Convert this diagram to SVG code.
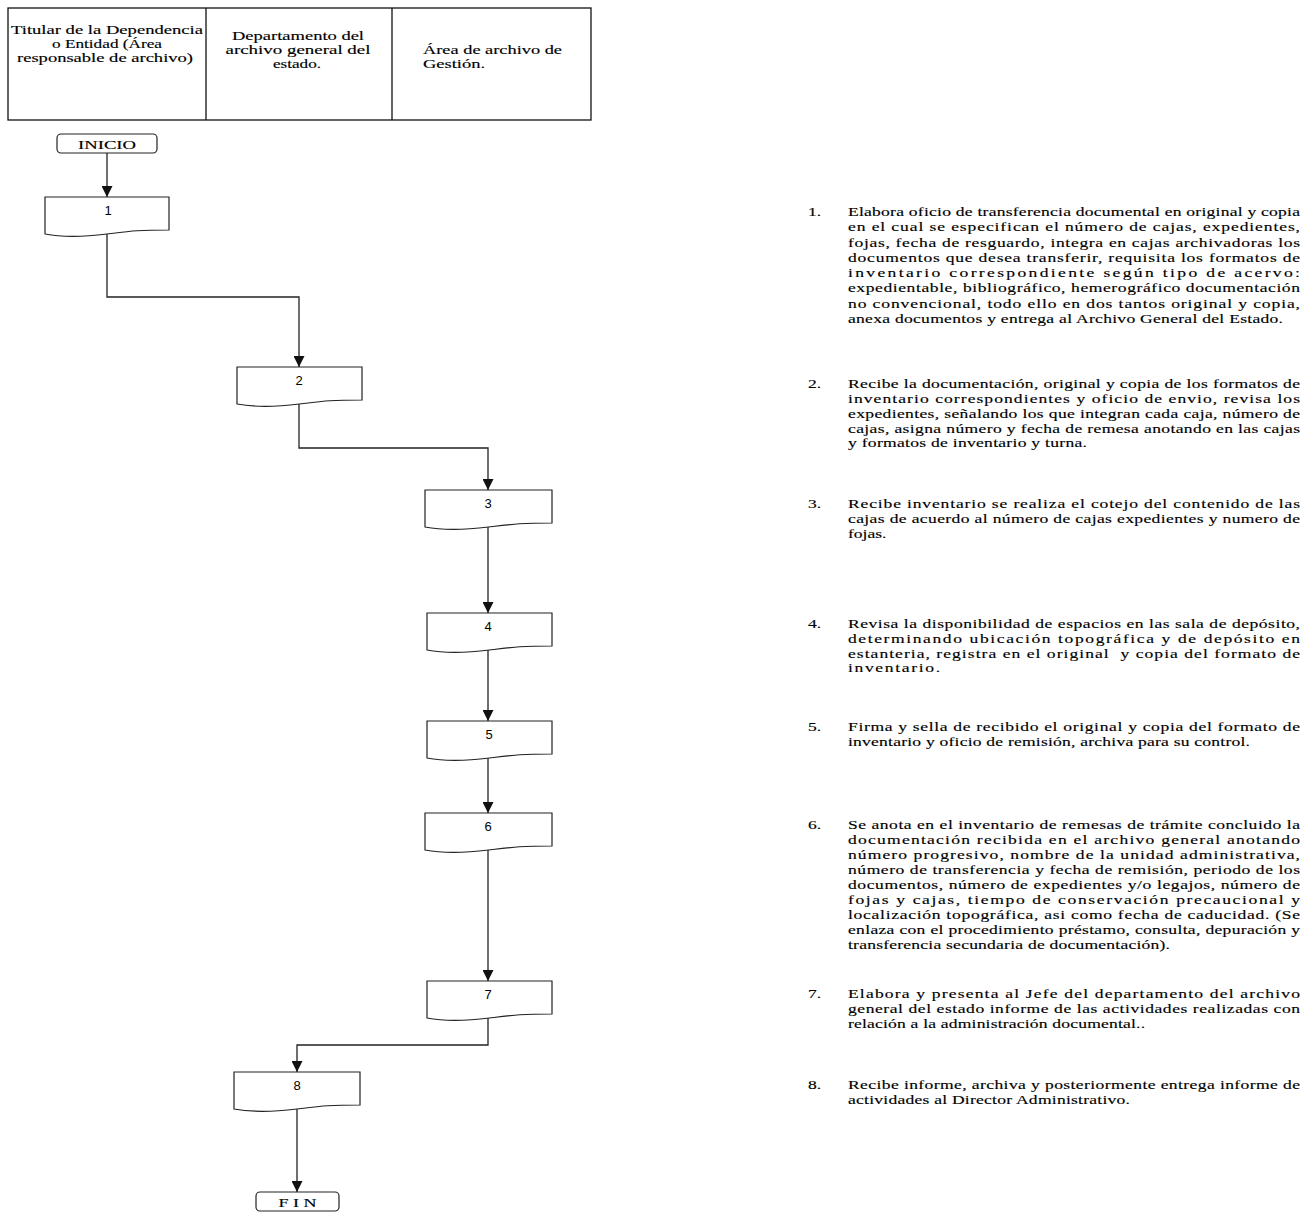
<svg xmlns="http://www.w3.org/2000/svg" width="1316" height="1212" viewBox="0 0 1316 1212">
<style>
.bg{fill:#fff}
.frame{fill:none;stroke:#111;stroke-width:1.3}
.node{fill:#fff;stroke:#222;stroke-width:1.2}
.term{fill:#fff;stroke:#222;stroke-width:1.2}
.conn{fill:none;stroke:#222;stroke-width:1.3}
.t{font-family:"Liberation Serif","Times New Roman",serif;font-size:13.5px;fill:#000;stroke:#000;stroke-width:0.15}
.num{font-family:"Liberation Sans",Arial,sans-serif;font-size:13px;fill:#000;text-anchor:middle}
.b{font-family:"Liberation Serif","Times New Roman",serif;font-size:13.5px;fill:#000;stroke:#000;stroke-width:0.15}
</style>
<defs>
<marker id="arr" markerUnits="userSpaceOnUse" markerWidth="12" markerHeight="11" refX="11" refY="5.5" orient="auto">
<path d="M0,0 L11,5.5 L0,11 Z" fill="#111"/>
</marker>
</defs>
<rect class="bg" x="0" y="0" width="1316" height="1212"/>

<g id="header">
<rect class="frame" x="8" y="8" width="583" height="112"/>
<line class="frame" x1="206" y1="8" x2="206" y2="120"/>
<line class="frame" x1="392" y1="8" x2="392" y2="120"/>
<text class="t" x="107" y="34" text-anchor="middle" textLength="192" lengthAdjust="spacingAndGlyphs">Titular de la Dependencia</text>
<text class="t" x="107" y="48" text-anchor="middle" textLength="110" lengthAdjust="spacingAndGlyphs">o Entidad (Área</text>
<text class="t" x="105" y="62" text-anchor="middle" textLength="176" lengthAdjust="spacingAndGlyphs">responsable de archivo)</text>
<text class="t" x="298" y="40" text-anchor="middle" textLength="132" lengthAdjust="spacingAndGlyphs">Departamento del</text>
<text class="t" x="298" y="54" text-anchor="middle" textLength="145" lengthAdjust="spacingAndGlyphs">archivo general del</text>
<text class="t" x="297" y="68" text-anchor="middle" textLength="48" lengthAdjust="spacingAndGlyphs">estado.</text>
<text class="t" x="423" y="54" textLength="139" lengthAdjust="spacingAndGlyphs">Área de archivo de</text>
<text class="t" x="423" y="68" textLength="62" lengthAdjust="spacingAndGlyphs">Gestión.</text>
</g>

<g id="connectors">
<path class="conn" d="M107 153 V197" marker-end="url(#arr)"/>
<path class="conn" d="M107 234 V297 H299 V367" marker-end="url(#arr)"/>
<path class="conn" d="M299 404 V448 H488 V490" marker-end="url(#arr)"/>
<path class="conn" d="M488 527 V613" marker-end="url(#arr)"/>
<path class="conn" d="M488 650 V721" marker-end="url(#arr)"/>
<path class="conn" d="M488 758 V813" marker-end="url(#arr)"/>
<path class="conn" d="M488 850 V981" marker-end="url(#arr)"/>
<path class="conn" d="M488 1018 V1045 H297 V1072" marker-end="url(#arr)"/>
<path class="conn" d="M297 1109 V1192" marker-end="url(#arr)"/>
</g>

<g id="inicio">
<rect class="term" x="57" y="134" width="100" height="19" rx="4"/>
<text class="t" x="107" y="148.5" text-anchor="middle" font-size="14" textLength="58" lengthAdjust="spacingAndGlyphs">INICIO</text>
</g>
<g id="n1">
<path class="node" d="M45 197 H169 V230 C138 230 131.8 231 107 234 C82.2 237 63.6 237.5 45 234 Z"/>
<text class="num" x="108" y="215">1</text>
</g>
<g id="n2">
<path class="node" d="M237 367 H362 V400 C330.75 400 324.5 401 299.5 404 C274.5 407 255.75 407.5 237 404 Z"/>
<text class="num" x="299" y="385">2</text>
</g>
<g id="n3">
<path class="node" d="M425 490 H552 V523 C520.25 523 513.9 524 488.5 527 C463.1 530 444.05 530.5 425 527 Z"/>
<text class="num" x="488" y="508">3</text>
</g>
<g id="n4">
<path class="node" d="M427 613 H552 V646 C520.75 646 514.5 647 489.5 650 C464.5 653 445.75 653.5 427 650 Z"/>
<text class="num" x="488" y="631">4</text>
</g>
<g id="n5">
<path class="node" d="M427 721 H552 V754 C520.75 754 514.5 755 489.5 758 C464.5 761 445.75 761.5 427 758 Z"/>
<text class="num" x="489" y="739">5</text>
</g>
<g id="n6">
<path class="node" d="M425 813 H552 V846 C520.25 846 513.9 847 488.5 850 C463.1 853 444.05 853.5 425 850 Z"/>
<text class="num" x="488" y="831">6</text>
</g>
<g id="n7">
<path class="node" d="M427 981 H552 V1014 C520.75 1014 514.5 1015 489.5 1018 C464.5 1021 445.75 1021.5 427 1018 Z"/>
<text class="num" x="488" y="999">7</text>
</g>
<g id="n8">
<path class="node" d="M234 1072 H360 V1105 C328.5 1105 322.2 1106 297 1109 C271.8 1112 252.9 1112.5 234 1109 Z"/>
<text class="num" x="297" y="1090">8</text>
</g>
<g id="fin">
<rect class="term" x="256" y="1192" width="83" height="19" rx="4"/>
<text class="t" x="297.5" y="1206.5" text-anchor="middle" font-size="14" textLength="38" lengthAdjust="spacingAndGlyphs">F I N</text>
</g>

<g id="descriptions" transform="translate(848 0) scale(1.3 1)">
<g id="d1">
<text class="b" x="-30.8" y="216">1.</text>
<text class="b" x="0" y="216" textLength="347.7" lengthAdjust="spacing">Elabora oficio de transferencia documental en original y copia</text>
<text class="b" x="0" y="231.3" textLength="347.7" lengthAdjust="spacing">en el cual se especifican el número de cajas, expedientes,</text>
<text class="b" x="0" y="246.6" textLength="347.7" lengthAdjust="spacing">fojas, fecha de resguardo, integra en cajas archivadoras los</text>
<text class="b" x="0" y="261.9" textLength="347.7" lengthAdjust="spacing">documentos que desea transferir, requisita los formatos de</text>
<text class="b" x="0" y="277.2" textLength="347.7" lengthAdjust="spacing">inventario correspondiente según tipo de acervo:</text>
<text class="b" x="0" y="292.5" textLength="347.7" lengthAdjust="spacing">expedientable, bibliográfico, hemerográfico documentación</text>
<text class="b" x="0" y="307.8" textLength="347.7" lengthAdjust="spacing">no convencional, todo ello en dos tantos original y copia,</text>
<text class="b" x="0" y="323.1" textLength="334.6" lengthAdjust="spacing">anexa documentos y entrega al Archivo General del Estado.</text>
</g>
<g id="d2">
<text class="b" x="-30.8" y="388">2.</text>
<text class="b" x="0" y="388" textLength="347.7" lengthAdjust="spacing">Recibe la documentación, original y copia de los formatos de</text>
<text class="b" x="0" y="403" textLength="347.7" lengthAdjust="spacing">inventario correspondientes y oficio de envio, revisa los</text>
<text class="b" x="0" y="418" textLength="347.7" lengthAdjust="spacing">expedientes, señalando los que integran cada caja, número de</text>
<text class="b" x="0" y="433" textLength="347.7" lengthAdjust="spacing">cajas, asigna número y fecha de remesa anotando en las cajas</text>
<text class="b" x="0" y="447.5" textLength="183.8" lengthAdjust="spacing">y formatos de inventario y turna.</text>
</g>
<g id="d3">
<text class="b" x="-30.8" y="508.5">3.</text>
<text class="b" x="0" y="508.5" textLength="347.7" lengthAdjust="spacing">Recibe inventario se realiza el cotejo del contenido de las</text>
<text class="b" x="0" y="523.5" textLength="347.7" lengthAdjust="spacing">cajas de acuerdo al número de cajas expedientes y numero de</text>
<text class="b" x="0" y="538">fojas.</text>
</g>
<g id="d4">
<text class="b" x="-30.8" y="628">4.</text>
<text class="b" x="0" y="628" textLength="347.7" lengthAdjust="spacing">Revisa la disponibilidad de espacios en las sala de depósito,</text>
<text class="b" x="0" y="643" textLength="347.7" lengthAdjust="spacing">determinando ubicación topográfica y de depósito en</text>
<text class="b" x="0" y="658" textLength="347.7" lengthAdjust="spacing" xml:space="preserve">estanteria, registra en el original  y copia del formato de</text>
<text class="b" x="0" y="672.5" textLength="70.8" lengthAdjust="spacing">inventario.</text>
</g>
<g id="d5">
<text class="b" x="-30.8" y="731">5.</text>
<text class="b" x="0" y="731" textLength="347.7" lengthAdjust="spacing">Firma y sella de recibido el original y copia del formato de</text>
<text class="b" x="0" y="746" textLength="309.2" lengthAdjust="spacing">inventario y oficio de remisión, archiva para su control.</text>
</g>
<g id="d6">
<text class="b" x="-30.8" y="829.5">6.</text>
<text class="b" x="0" y="829.5" textLength="347.7" lengthAdjust="spacing">Se anota en el inventario de remesas de trámite concluido la</text>
<text class="b" x="0" y="844.5" textLength="347.7" lengthAdjust="spacing">documentación recibida en el archivo general anotando</text>
<text class="b" x="0" y="859" textLength="347.7" lengthAdjust="spacing">número progresivo, nombre de la unidad administrativa,</text>
<text class="b" x="0" y="874" textLength="347.7" lengthAdjust="spacing">número de transferencia y fecha de remisión, periodo de los</text>
<text class="b" x="0" y="889" textLength="347.7" lengthAdjust="spacing">documentos, número de expedientes y/o legajos, número de</text>
<text class="b" x="0" y="904" textLength="347.7" lengthAdjust="spacing">fojas y cajas, tiempo de conservación precaucional y</text>
<text class="b" x="0" y="919" textLength="347.7" lengthAdjust="spacing">localización topográfica, asi como fecha de caducidad. (Se</text>
<text class="b" x="0" y="934" textLength="347.7" lengthAdjust="spacing">enlaza con el procedimiento préstamo, consulta, depuración y</text>
<text class="b" x="0" y="949" textLength="247.7" lengthAdjust="spacing">transferencia secundaria de documentación).</text>
</g>
<g id="d7">
<text class="b" x="-30.8" y="998.5">7.</text>
<text class="b" x="0" y="998.5" textLength="347.7" lengthAdjust="spacing">Elabora y presenta al Jefe del departamento del archivo</text>
<text class="b" x="0" y="1013.5" textLength="347.7" lengthAdjust="spacing">general del estado informe de las actividades realizadas con</text>
<text class="b" x="0" y="1028" textLength="228.5" lengthAdjust="spacing">relación a la administración documental..</text>
</g>
<g id="d8">
<text class="b" x="-30.8" y="1089.5">8.</text>
<text class="b" x="0" y="1089.5" textLength="347.7" lengthAdjust="spacing">Recibe informe, archiva y posteriormente entrega informe de</text>
<text class="b" x="0" y="1104.5" textLength="216.9" lengthAdjust="spacing">actividades al Director Administrativo.</text>
</g>
</g>
</svg>
